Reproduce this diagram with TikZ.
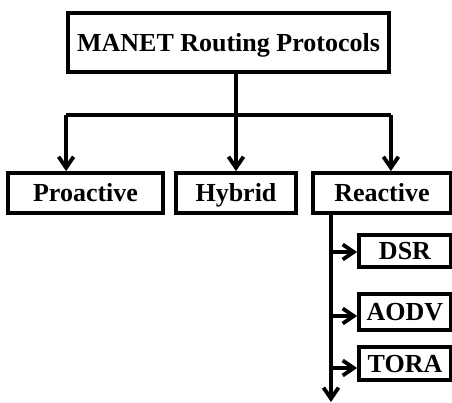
\documentclass[tikz,border=0pt]{standalone}
\usepackage{fontspec}
\setmainfont{Liberation Serif}
\usetikzlibrary{arrows.meta,positioning}

\begin{document}
\begin{tikzpicture}[x=0.5pt,y=-0.5pt,>={Straight Barb[length=5.5pt,width=7.5pt]},line width=1.9pt,font=\fontsize{13}{15}\selectfont\bfseries]
\tikzstyle{box}=[draw, inner sep=0pt, line width=1.9pt, minimum height=20pt, text height=8.5pt, text depth=0pt]
\tikzstyle{sub}=[box, minimum width=46pt, minimum height=16.5pt]
\useasboundingbox (0,0) rectangle (452,403);
\node[box, minimum width=160.5pt, minimum height=29.5pt] (manet) at (228.5,42.5) {MANET Routing Protocols};
\node[box, minimum width=77.5pt] (proactive) at (85.5,193) {Proactive};
\node[box, minimum width=60pt] (hybrid) at (236,193) {Hybrid};
\node[box, minimum width=69pt] (reactive) at (382,193) {Reactive};
\node[sub, minimum height=16pt] (dsr) at (405,251) {DSR};
\node[sub, minimum height=18pt] (aodv) at (405,312) {AODV};
\node[sub] (tora) at (405,363.5) {TORA};
% tree from the top box
\coordinate (bar) at (0,115);
\draw (manet.south -| hybrid.north) -- (hybrid.north |- bar);
\draw (manet.south west |- bar) -- (manet.south east |- bar);
\draw[->] (manet.south west |- bar) -- (manet.south west |- proactive.north);
\draw[->] (hybrid.north |- bar) -- (hybrid.north);
\draw[->] (manet.south east |- bar) -- (manet.south east |- reactive.north);
% reactive branch
\coordinate (trunk) at (331,402);
\draw[->] (reactive.south -| trunk) -- (trunk);
\coordinate (t1) at (331,252);
\coordinate (t2) at (331,316);
\coordinate (t3) at (331,368);
\draw[->] (t1) -- (t1 -| dsr.west);
\draw[->] (t2) -- (t2 -| aodv.west);
\draw[->] (t3) -- (t3 -| tora.west);
\end{tikzpicture}
\end{document}
